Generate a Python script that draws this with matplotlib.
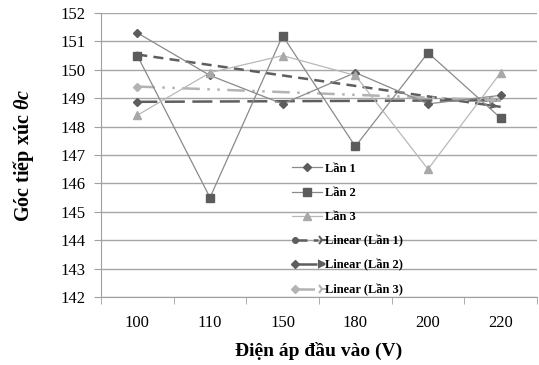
import numpy as np
import matplotlib
matplotlib.use("Agg")
import matplotlib.pyplot as plt
from matplotlib.lines import Line2D
from matplotlib.legend_handler import HandlerBase

plt.rcParams["font.family"] = ["Liberation Serif", "DejaVu Serif"]
plt.rcParams["mathtext.fontset"] = "custom"
plt.rcParams["mathtext.it"] = "Liberation Serif:italic:bold"
plt.rcParams["mathtext.rm"] = "Liberation Serif:bold"

# Voltage categories and measured contact angles for three runs
voltages = ["100", "110", "150", "180", "200", "220"]
lan1 = [151.3, 149.8, 148.8, 149.9, 148.8, 149.1]
lan2 = [150.5, 145.5, 151.2, 147.3, 150.6, 148.3]
lan3 = [148.4, 149.9, 150.5, 149.8, 146.5, 149.9]
labels = ["Lần 1", "Lần 2", "Lần 3"]
yticks = [142, 143, 144, 145, 146, 147, 148, 149, 150, 151, 152]

x = np.arange(1, len(voltages) + 1)

fig = plt.figure(figsize=(5.39, 3.65), dpi=100)
ax = fig.add_axes([0.1874, 0.1863, 0.8089, 0.7781])

# data series styling: (line colour, marker, marker colour, marker size)
series_style = [
    ("#8a8a8a", "D", "#5c5c5c", 4.5),
    ("#8a8a8a", "s", "#5c5c5c", 6),
    ("#b8b8b8", "^", "#a8a8a8", 6),
]
series = [lan1, lan2, lan3]
for vals, lab, (lc, mk, mc, ms) in zip(series, labels, series_style):
    ax.plot(x, vals, color=lc, lw=0.9, marker=mk, ms=ms, mfc=mc, mec=mc,
            label=lab, zorder=3)

# linear trend lines: (colour, dashes, start marker, filled arrow)
trend_style = [
    ("#5e5e5e", (4, 2.5), "o", False),
    ("#5e5e5e", (8, 3), "D", True),
    ("#b3b3b3", (7, 3, 1, 3, 1, 3), "D", False),
]
for vals, (c, dsh, m0, filled) in zip(series, trend_style):
    k, b = np.polyfit(x, vals, 1)
    fit = k * x + b
    ax.plot(x, fit, color=c, lw=1.8, dashes=dsh, zorder=2)
    ax.plot(x[:1], fit[:1], ls="none", marker=m0, ms=4.5, color=c, zorder=2)
    ax.annotate("", xy=(x[-1], fit[-1]), xytext=(x[-1] - 0.25, fit[-1] - k * 0.25),
                arrowprops=dict(arrowstyle="-|>" if filled else "->", color=c,
                                lw=1.6, mutation_scale=9),
                zorder=2)


class TrendHandler(HandlerBase):
    def __init__(self, color, dashes, m0, filled):
        super().__init__()
        self.color, self.dashes, self.m0, self.filled = color, dashes, m0, filled

    def create_artists(self, legend, orig_handle, xdescent, ydescent, width,
                       height, fontsize, trans):
        y = height / 2 - ydescent
        x0, x1 = -xdescent, width - xdescent
        line = Line2D([x0 + 4, x1 - 3], [y, y], color=self.color, lw=1.8,
                      dashes=self.dashes)
        start = Line2D([x0 + 2], [y], marker=self.m0, ms=4, color=self.color, ls="none")
        end = Line2D([x1], [y], marker=">" if self.filled else "4",
                     ms=5 if self.filled else 8, color=self.color, mew=1.5, ls="none")
        for a in (line, start, end):
            a.set_transform(trans)
        return [line, start, end]


handles, hl = ax.get_legend_handles_labels()
trend_handles = [Line2D([], []) for _ in range(3)]
trend_labels = ["Linear (" + l + ")" for l in labels]
hmap = {h: TrendHandler(c, d, m0, f)
        for h, (c, d, m0, f) in zip(trend_handles, trend_style)}
leg = ax.legend(handles + trend_handles, hl + trend_labels, handler_map=hmap,
                loc="upper left", bbox_to_anchor=(0.426, 0.49), frameon=False,
                prop=dict(family="Liberation Serif", weight="bold", size=9),
                handlelength=2.4, handletextpad=0.3, labelspacing=0.97,
                borderaxespad=0)

ax.set_xlim(0.5, len(voltages) + 0.5)
ax.set_ylim(142, 152)
ax.set_yticks(yticks)
ax.set_xticks(x, voltages)
ax.set_xticks(np.arange(0.5, len(voltages) + 1), minor=True)
ax.tick_params(axis="x", which="major", length=0, pad=13, labelsize=12)
ax.tick_params(axis="x", which="minor", length=5, color="#a0a0a0")
ax.tick_params(axis="y", length=5, color="#a0a0a0", labelsize=12, pad=6)
ax.grid(axis="y", color="#a6a6a6", lw=1.0)
ax.set_axisbelow(True)
for s in ("top", "right"):
    ax.spines[s].set_visible(False)
for s in ("left", "bottom"):
    ax.spines[s].set_color("#a0a0a0")

ax.set_xlabel("Điện áp đầu vào (V)", fontsize=14, fontweight="bold", labelpad=8)
ax.set_ylabel(r"Góc tiếp xúc $\theta c$", fontsize=14.5, fontweight="bold", labelpad=18)

fig.savefig("out.png", dpi=100)
